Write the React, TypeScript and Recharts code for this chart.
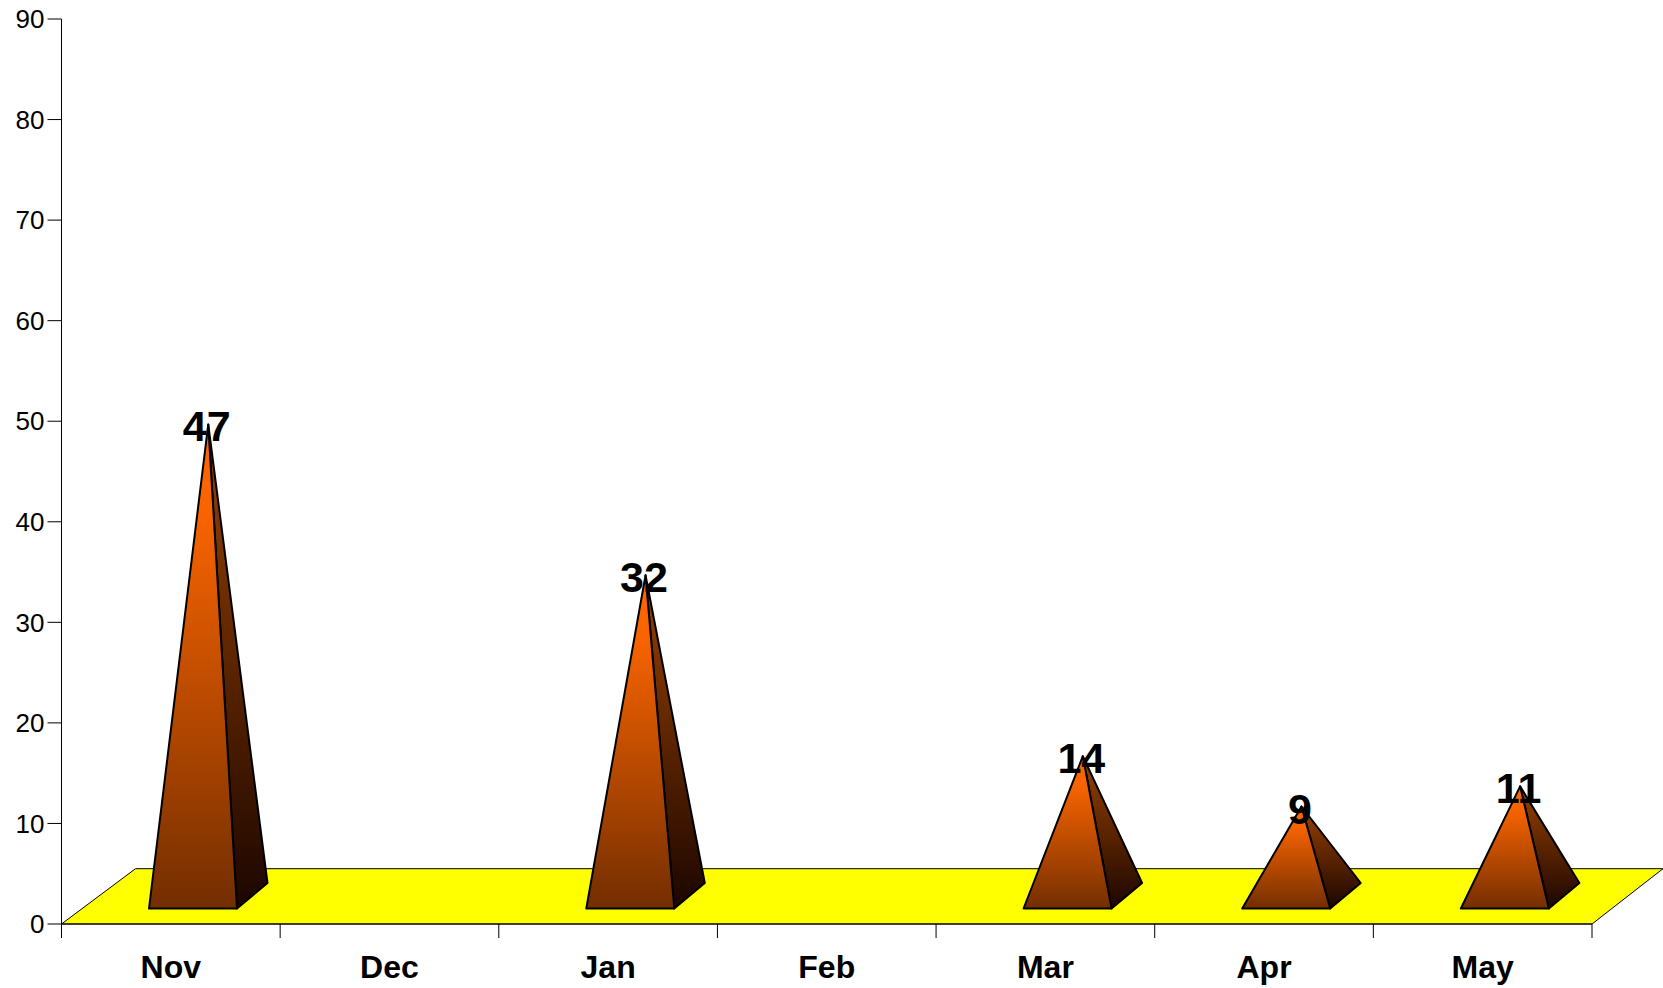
import React from "react";
import { BarChart, Bar, XAxis, YAxis, ReferenceArea } from "recharts";

const months = ["Nov", "Dec", "Jan", "Feb", "Mar", "Apr", "May"];
const counts: (number | null)[] = [47, null, 32, null, 14, 9, 11];
const yTicks = [0, 10, 20, 30, 40, 50, 60, 70, 80, 90];
const rows = months.map((month, i) => ({ month, count: counts[i] }));

const FONT = "'Liberation Sans', Arial, sans-serif";
const DEPTH_X = 30.5;
const DEPTH_Y = 25.5;
const FLOOR_DEPTH_LEFT = 74;
const FLOOR_DEPTH_RIGHT = 71;

function Pyramid(props: any) {
  const { x, y, width, height, value } = props;
  if (value == null) return null;
  const v = Array.isArray(value) ? value[1] : value;
  const left = x + 22.5;
  const right = left + width;
  const zero = y + height;
  const base = zero - 15.5;
  const apexX = left + width / 2 + DEPTH_X / 2;
  const apexY = y - 27;
  return (
    <g>
      <polygon points={`${right},${base} ${right + DEPTH_X},${base - DEPTH_Y} ${apexX},${apexY}`} fill="url(#sideFace)" stroke="#000" strokeWidth={2} strokeLinejoin="round" />
      <polygon points={`${left},${base} ${right},${base} ${apexX},${apexY}`} fill="url(#frontFace)" stroke="#000" strokeWidth={2} strokeLinejoin="round" />
      <text x={apexX - 1.5} y={apexY + 2} textAnchor="middle" dominantBaseline="central" fontFamily={FONT} fontWeight="bold" fontSize={43} fill="#000">
        {v}
      </text>
    </g>
  );
}

function Floor(props: any) {
  const { x, y, width, height } = props;
  const pts = `${x},${y + height} ${x + width},${y + height} ${x + width + FLOOR_DEPTH_RIGHT},${y} ${x + FLOOR_DEPTH_LEFT},${y}`;
  return <polygon points={pts} fill="#ffff00" stroke="#000" strokeWidth={1} />;
}

function MonthTick(props: any) {
  const { x, y, payload, index } = props;
  const half = payload.offset ?? 109.3;
  const top = y - 8;
  return (
    <g>
      {index === 0 && <line x1={x - half} x2={x - half} y1={top} y2={top + 14} stroke="#000" strokeWidth={1} />}
      <line x1={x + half} x2={x + half} y1={top} y2={top + 14} stroke="#000" strokeWidth={1} />
      <text x={x} y={top + 43} textAnchor="middle" dominantBaseline="central" fontFamily={FONT} fontWeight="bold" fontSize={32} fill="#000">
        {payload.value}
      </text>
    </g>
  );
}

export default function App() {
  return (
    <div style={{ position: "absolute", left: 0, top: 0, width: 1663, height: 988, background: "#fff" }}>
      <BarChart width={1663} height={988} data={rows} margin={{ top: 19, right: 71, bottom: 0, left: 1.5 }} barSize={88}>
        <defs>
          <linearGradient id="frontFace" x1="0" y1="0" x2="0" y2="1">
            <stop offset="0%" stopColor="#ff6600" />
            <stop offset="18%" stopColor="#f96400" />
            <stop offset="100%" stopColor="#732e00" />
          </linearGradient>
          <linearGradient id="sideFace" x1="0" y1="0" x2="0" y2="1">
            <stop offset="0%" stopColor="#9a4200" />
            <stop offset="100%" stopColor="#1c0600" />
          </linearGradient>
        </defs>
        <ReferenceArea y1={0} y2={5.5} ifOverflow="visible" shape={<Floor />} />
        <XAxis dataKey="month" height={64} interval={0} axisLine={{ stroke: "#000" }} tickLine={false} tick={<MonthTick />} />
        <YAxis
          width={60}
          domain={[0, 90]}
          ticks={yTicks}
          interval={0}
          axisLine={{ stroke: "#000" }}
          tickLine={{ stroke: "#000" }}
          tickSize={14}
          tickMargin={3}
          tick={{ fontFamily: FONT, fontSize: 26, fill: "#000" }}
        />
        <Bar dataKey="count" isAnimationActive={false} shape={<Pyramid />} />
      </BarChart>
    </div>
  );
}
